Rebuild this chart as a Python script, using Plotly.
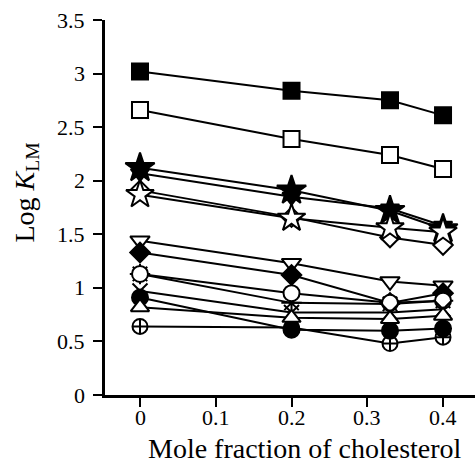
import plotly.graph_objects as go

x_vals = [0, 0.2, 0.33, 0.4]

sq_filled = [3.02, 2.84, 2.75, 2.61]
sq_open = [2.66, 2.39, 2.24, 2.11]
star_filled = [2.12, 1.91, 1.72, 1.55]
tri_down_filled = [2.07, 1.85, 1.74, 1.58]
diamond_open = [1.91, 1.66, 1.47, 1.40]
star_open = [1.87, 1.65, 1.56, 1.52]
tri_down_open = [1.44, 1.23, 1.06, 1.02]
diamond_filled = [1.33, 1.12, 0.86, 0.95]
asterisk_vals = [1.13, 0.86, 0.85, 0.88]
circle_open = [1.13, 0.95, 0.86, 0.88]
x_cross = [0.97, 0.77, 0.77, 0.80]
circle_cross = [0.64, 0.63, 0.48, 0.54]
circle_filled = [0.91, 0.61, 0.60, 0.62]
tri_up_open = [0.82, 0.72, 0.71, 0.74]

x_ticks = [0, 0.1, 0.2, 0.3, 0.4]
x_tick_text = ["0", "0.1", "0.2", "0.3", "0.4"]
y_ticks = [0, 0.5, 1, 1.5, 2, 2.5, 3, 3.5]
y_tick_text = ["0", "0.5", "1", "1.5", "2", "2.5", "3", "3.5"]

x_title = "Mole fraction of cholesterol"
y_title = "Log <i>K</i><sub>LM</sub>"

series = [
    (sq_filled, "square", "black", 16),
    (sq_open, "square", "white", 16),
    (star_filled, "star", "black", 22),
    (tri_down_filled, "triangle-down", "black", 16),
    (diamond_open, "diamond", "white", 15),
    (star_open, "star", "white", 21),
    (tri_down_open, "triangle-down", "white", 17),
    (diamond_filled, "diamond", "black", 15),
    (asterisk_vals, "asterisk", "white", 17),
    (circle_open, "circle", "white", 16),
    (x_cross, "x-thin", "white", 15),
    (circle_cross, "circle-cross", "white", 15),
    (circle_filled, "circle", "black", 16),
    (tri_up_open, "triangle-up", "white", 16),
]

fig = go.Figure()
for ys, sym, fill, size in series:
    fig.add_trace(go.Scatter(
        x=x_vals, y=ys, mode="lines+markers",
        line=dict(color="black", width=2),
        marker=dict(symbol=sym, size=size, color=fill,
                    line=dict(color="black", width=2)),
        showlegend=False,
    ))

font_family = "Liberation Serif"
tick_font = dict(family=font_family, size=22, color="black")
title_font = dict(family=font_family, size=28, color="black")

fig.update_layout(
    template="none",
    width=475, height=467,
    margin=dict(l=105, r=0, t=20, b=72),
    paper_bgcolor="white", plot_bgcolor="white",
    font=dict(family=font_family, color="black", size=22),
)
fig.update_xaxes(
    range=[-0.0462, 0.4422],
    tickmode="array", tickvals=x_ticks, showticklabels=False,
    showline=True, linecolor="black", linewidth=2.5,
    ticks="outside", ticklen=9, tickwidth=2, tickcolor="black",
    showgrid=False, zeroline=False,
)
fig.update_yaxes(
    range=[0, 3.5],
    tickmode="array", tickvals=y_ticks, showticklabels=False,
    showline=True, linecolor="black", linewidth=2.5,
    ticks="outside", ticklen=9, tickwidth=2, tickcolor="black",
    showgrid=False, zeroline=False,
)

for v, t in zip(x_ticks, x_tick_text):
    fig.add_annotation(x=v, xref="x", y=0, yref="paper", text=t,
                       showarrow=False, xanchor="center", yanchor="top",
                       yshift=-9, borderpad=0, font=tick_font)
for v, t in zip(y_ticks, y_tick_text):
    fig.add_annotation(x=0, xref="paper", y=v, yref="y", text=t,
                       showarrow=False, xanchor="right", yanchor="middle",
                       xshift=-18, font=tick_font)

fig.add_annotation(x=0.54, xref="paper", y=0, yref="paper", text=x_title,
                   showarrow=False, xanchor="center", yanchor="top",
                   yshift=-37, borderpad=0, font=title_font)
fig.add_annotation(x=0, xref="paper", y=0.54, yref="paper", text=y_title,
                   showarrow=False, xanchor="center", yanchor="middle",
                   xshift=-79, textangle=-90, font=title_font)

fig.write_html("out.html")
